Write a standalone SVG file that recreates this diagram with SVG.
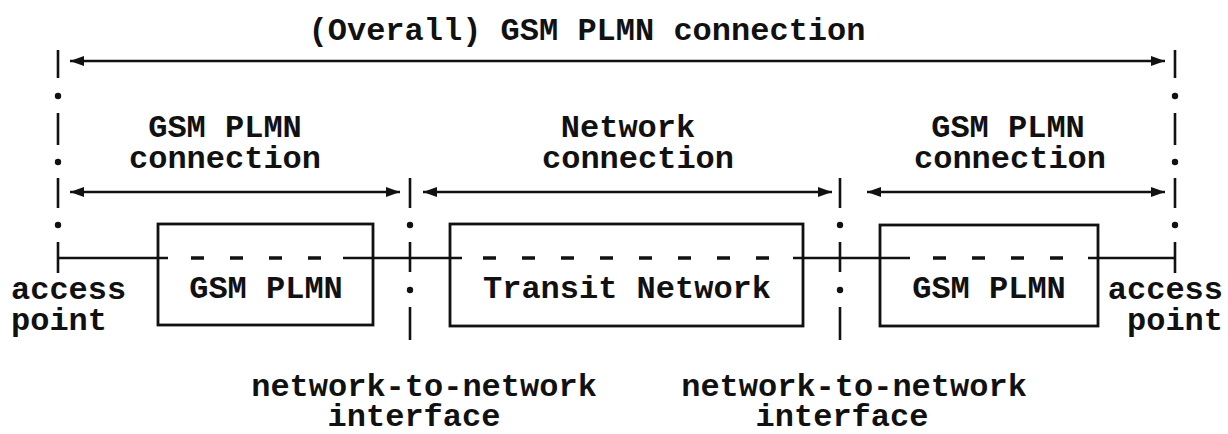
<svg xmlns="http://www.w3.org/2000/svg" width="1228" height="434" viewBox="0 0 1228 434">
<style>
text{font-family:"Liberation Mono","Courier New",monospace;font-weight:bold;font-size:32px;fill:#111}
.c{text-anchor:middle}
.r{text-anchor:end}
.ln{stroke:#111;stroke-width:2.6;fill:none}
.dash{stroke:#111;stroke-width:3.5;fill:none;stroke-dasharray:13 26}
.box{stroke:#111;stroke-width:2.8;fill:none}
.arr{stroke:#111;stroke-width:2.6;fill:none;marker-start:url(#ah);marker-end:url(#ah)}
.dot{fill:#111}
</style>
<defs>
<marker id="ah" viewBox="0 0 14 10" refX="14" refY="5" markerWidth="14" markerHeight="10" markerUnits="userSpaceOnUse" orient="auto-start-reverse">
<path d="M0,0 L14,5 L0,10 Z" fill="#111"/>
</marker>
</defs>
<g id="title"><text class="c" x="587" y="40">(Overall) GSM PLMN connection</text></g>
<g id="label-gsm-left"><text class="c" x="225" y="137">GSM PLMN</text><text class="c" x="225" y="168">connection</text></g>
<g id="label-network"><text class="c" x="628" y="137">Network</text><text class="c" x="638" y="168">connection</text></g>
<g id="label-gsm-right"><text class="c" x="1008" y="137">GSM PLMN</text><text class="c" x="1010" y="168">connection</text></g>
<g id="access-left"><text x="11" y="299">access</text><text x="11" y="330">point</text></g>
<g id="access-right"><text class="r" x="1223" y="299">access</text><text class="r" x="1223" y="330">point</text></g>
<g id="nni-1"><text class="c" x="424" y="396">network-to-network</text><text class="c" x="414" y="426">interface</text></g>
<g id="nni-2"><text class="c" x="854" y="396">network-to-network</text><text class="c" x="842" y="426">interface</text></g>
<g id="box-gsm-left"><rect class="box" x="158" y="224" width="215" height="101"/><text class="c" x="266" y="298">GSM PLMN</text></g>
<g id="box-transit"><rect class="box" x="450" y="224" width="353" height="102"/><text class="c" x="627" y="298">Transit Network</text></g>
<g id="box-gsm-right"><rect class="box" x="880" y="225" width="218" height="101"/><text class="c" x="989" y="298">GSM PLMN</text></g>
<g id="boundaries">
<path class="ln" d="M58,50V78M58,113V145M58,178V208M58,242V273"/>
<circle class="dot" cx="58" cy="96" r="3.2"/><circle class="dot" cx="58" cy="162" r="3.2"/><circle class="dot" cx="58" cy="225" r="3.2"/>
<path class="ln" d="M1175,50V78M1175,113V145M1175,178V208M1175,242V273"/>
<circle class="dot" cx="1175" cy="96" r="3.2"/><circle class="dot" cx="1175" cy="162" r="3.2"/><circle class="dot" cx="1175" cy="225" r="3.2"/>
<path class="ln" d="M410,178V208M410,242V272M410,307V340"/>
<circle class="dot" cx="410" cy="225" r="3.2"/><circle class="dot" cx="410" cy="290" r="3.2"/>
<path class="ln" d="M840,178V208M840,242V272M840,307V340"/>
<circle class="dot" cx="840" cy="225" r="3.2"/><circle class="dot" cx="840" cy="290" r="3.2"/>
</g>
<g id="connectors">
<line class="arr" x1="70" y1="61" x2="1165" y2="61"/>
<line class="arr" x1="70" y1="192" x2="400" y2="192"/>
<line class="arr" x1="423" y1="192" x2="832" y2="192"/>
<line class="arr" x1="867" y1="192" x2="1165" y2="192"/>
<path class="ln" d="M58,258H168M343,258H462M793,258H910M1088,258H1175"/>
<path class="dash" d="M191,258H343"/>
<path class="dash" d="M483,258H793"/>
<path class="dash" d="M933,258H1088"/>
</g>
</svg>
